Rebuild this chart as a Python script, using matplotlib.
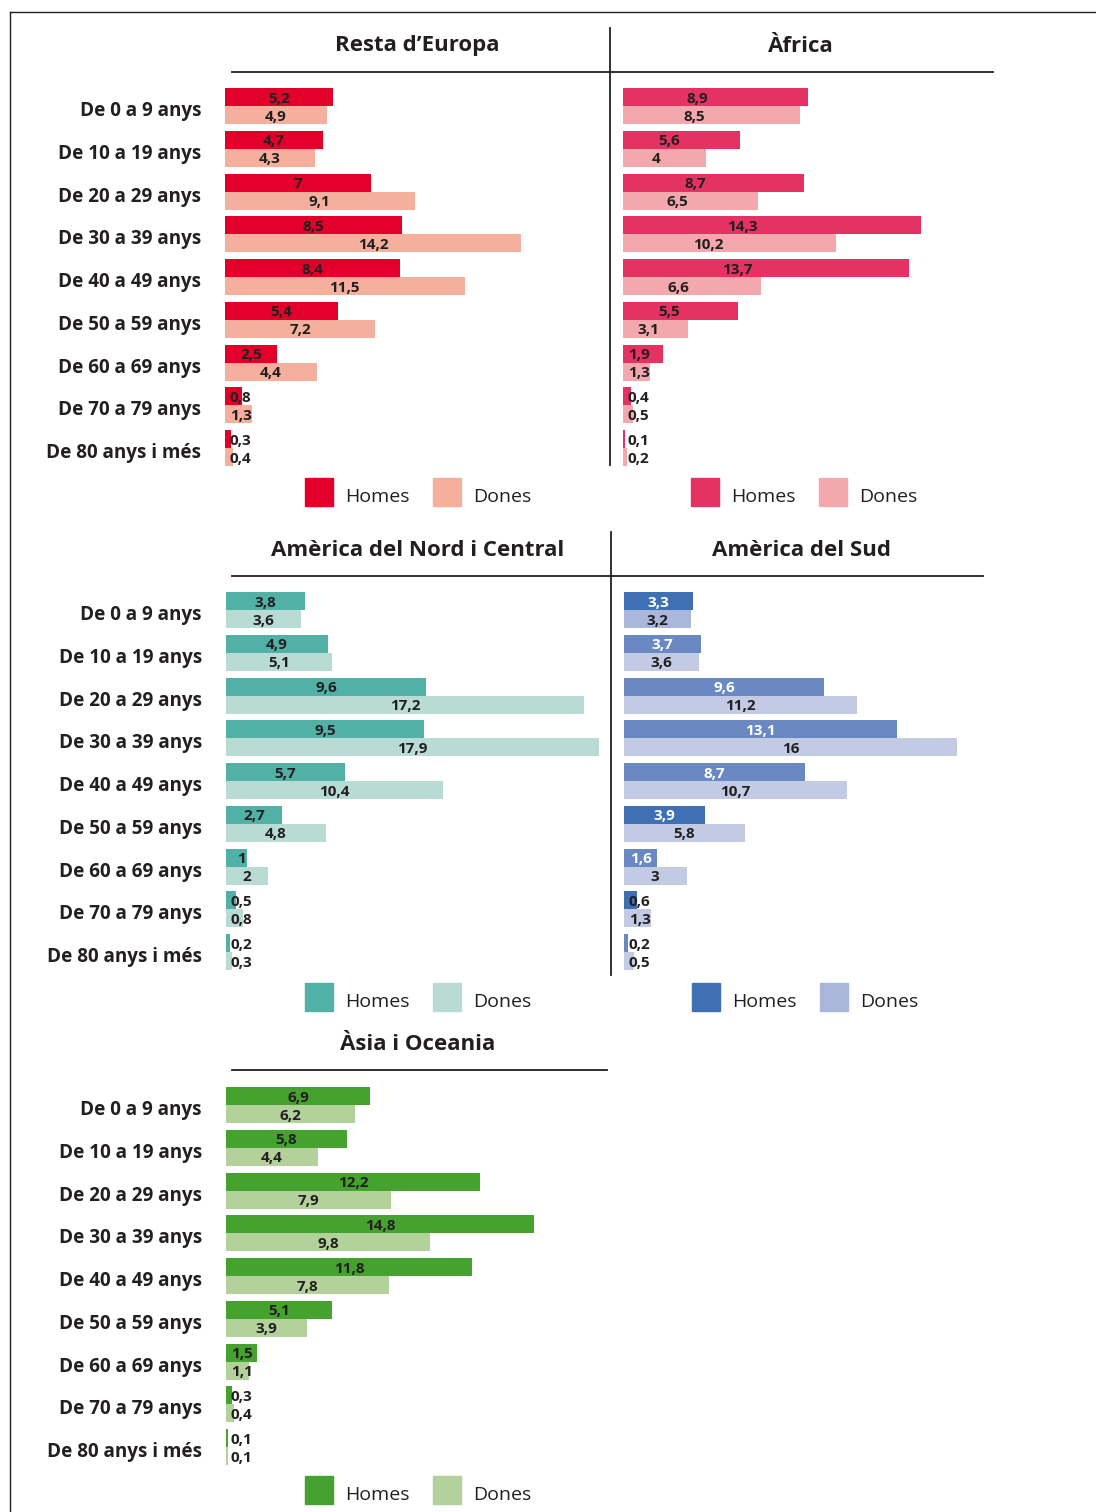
import numpy as np
import matplotlib.pyplot as plt
from matplotlib.patches import Rectangle
from matplotlib.lines import Line2D

plt.rcParams['font.family'] = ['Open Sans', 'DejaVu Sans']

groups = ['De 0 a 9 anys', 'De 10 a 19 anys', 'De 20 a 29 anys', 'De 30 a 39 anys',
          'De 40 a 49 anys', 'De 50 a 59 anys', 'De 60 a 69 anys', 'De 70 a 79 anys',
          'De 80 anys i més']

europa_h = [5.2, 4.7, 7, 8.5, 8.4, 5.4, 2.5, 0.8, 0.3]
europa_d = [4.9, 4.3, 9.1, 14.2, 11.5, 7.2, 4.4, 1.3, 0.4]
africa_h = [8.9, 5.6, 8.7, 14.3, 13.7, 5.5, 1.9, 0.4, 0.1]
africa_d = [8.5, 4, 6.5, 10.2, 6.6, 3.1, 1.3, 0.5, 0.2]
nord_h = [3.8, 4.9, 9.6, 9.5, 5.7, 2.7, 1, 0.5, 0.2]
nord_d = [3.6, 5.1, 17.2, 17.9, 10.4, 4.8, 2, 0.8, 0.3]
sud_h = [3.3, 3.7, 9.6, 13.1, 8.7, 3.9, 1.6, 0.6, 0.2]
sud_d = [3.2, 3.6, 11.2, 16, 10.7, 5.8, 3, 1.3, 0.5]
asia_h = [6.9, 5.8, 12.2, 14.8, 11.8, 5.1, 1.5, 0.3, 0.1]
asia_d = [6.2, 4.4, 7.9, 9.8, 7.8, 3.9, 1.1, 0.4, 0.1]

W, H = 1096, 1512
PX_PER_UNIT = 20.84
ROW = 42.75
BAR = 18
DARK = '#231f20'

fig = plt.figure(figsize=(W / 100, H / 100), dpi=100)


def fx(x):
    return x / W


def fy(y):
    return 1 - y / H


def fmt(v):
    return f'{v:g}'.replace('.', ',')


def hline(x0, x1, y, lw=1.3):
    fig.add_artist(Line2D([fx(x0), fx(x1)], [fy(y), fy(y)], color=DARK, lw=lw,
                          transform=fig.transFigure))


def vline(x, y0, y1, lw=1.3):
    fig.add_artist(Line2D([fx(x), fx(x)], [fy(y0), fy(y1)], color=DARK, lw=lw,
                          transform=fig.transFigure))


def panel(x0, y_row0, homes, dones, c_h, c_d, show_labels, lab_color=DARK,
          width=380, frac=0.5):
    top = y_row0 - ROW / 2
    height = ROW * len(groups)
    ax = fig.add_axes([fx(x0), fy(top + height), width / W, height / H])
    ax.set_xlim(0, width / PX_PER_UNIT)
    ax.set_ylim(len(groups) - 0.5, -0.5)
    ax.axis('off')
    y = np.arange(len(groups))
    bh = BAR / ROW
    ax.barh(y - bh / 2, homes, height=bh, color=c_h)
    ax.barh(y + bh / 2, dones, height=bh, color=c_d)
    lab_h = lab_color if isinstance(lab_color, list) else [lab_color] * len(groups)
    for i in range(len(groups)):
        for v, yy, col in [(homes[i], y[i] - bh / 2 + 0.04, lab_h[i]),
                           (dones[i], y[i] + bh / 2 + 0.04, DARK)]:
            xx = max(v * frac, 0.75)
            ax.text(xx, yy, fmt(v), ha='center', va='center', fontsize=11,
                    fontweight='bold', color=col)
        if show_labels:
            ax.text(-24 / PX_PER_UNIT, y[i] + 0.12, groups[i], ha='right', va='center',
                    fontsize=13.6, fontweight='bold', color=DARK)
    return ax


def title(text, xc, y):
    fig.text(fx(xc), fy(y), text, ha='center', va='center', fontsize=16,
             fontweight='bold', color=DARK)


def legend(x0, yc, c_h, c_d):
    for xs, c, lab in [(x0, c_h, 'Homes'), (x0 + 128, c_d, 'Dones')]:
        fig.add_artist(Rectangle((fx(xs), fy(yc + 14)), 28 / W, 28 / H, color=c,
                                 transform=fig.transFigure))
        fig.text(fx(xs + 40), fy(yc + 5), lab, ha='left', va='center', fontsize=14,
                 color=DARK)


# outer frame
vline(10, 12, H + 5, lw=1.0)
hline(10, W + 5, 12, lw=1.0)

# Resta d'Europa / Àfrica
title('Resta d\u2019Europa', 417, 46)
title('Àfrica', 801, 46)
hline(232, 993, 72)
vline(610, 28, 465)
panel(225, 106, europa_h, europa_d, '#e2002b', '#f4b09c', True)
panel(623, 106, africa_h, africa_d, '#e43262', '#f2a8ac', False, frac=0.4)
legend(305, 492, '#e2002b', '#f4b09c')
legend(691, 492, '#e43262', '#f2a8ac')

# Amèrica del Nord i Central / Amèrica del Sud
title('Amèrica del Nord i Central', 418, 550)
title('Amèrica del Sud', 802, 550)
hline(232, 983, 576)
vline(611, 532, 975)
panel(226, 610, nord_h, nord_d, '#52b1a6', '#b8dcd4', True)
sud_dark, sud_mid = '#4070b4', '#6a89c3'
sud_light, sud_pale = '#aab6da', '#c3cbe4'
sud_ch = [sud_dark, sud_mid, sud_mid, sud_mid, sud_mid, sud_dark, sud_mid, sud_dark, sud_mid]
sud_cd = [sud_light] + [sud_pale] * 8
sud_lab = ['white'] * 7 + [DARK, DARK]
panel(624, 610, sud_h, sud_d, sud_ch, sud_cd, False, lab_color=sud_lab)
legend(305, 997, '#52b1a6', '#b8dcd4')
legend(692, 997, sud_dark, sud_light)

# Àsia i Oceania
title('Àsia i Oceania', 418, 1044)
hline(232, 607, 1070)
panel(226, 1105, asia_h, asia_d, '#45a22e', '#b3d19a', True)
legend(305, 1490, '#45a22e', '#b3d19a')

fig.savefig('out.png', dpi=100, facecolor='white')
